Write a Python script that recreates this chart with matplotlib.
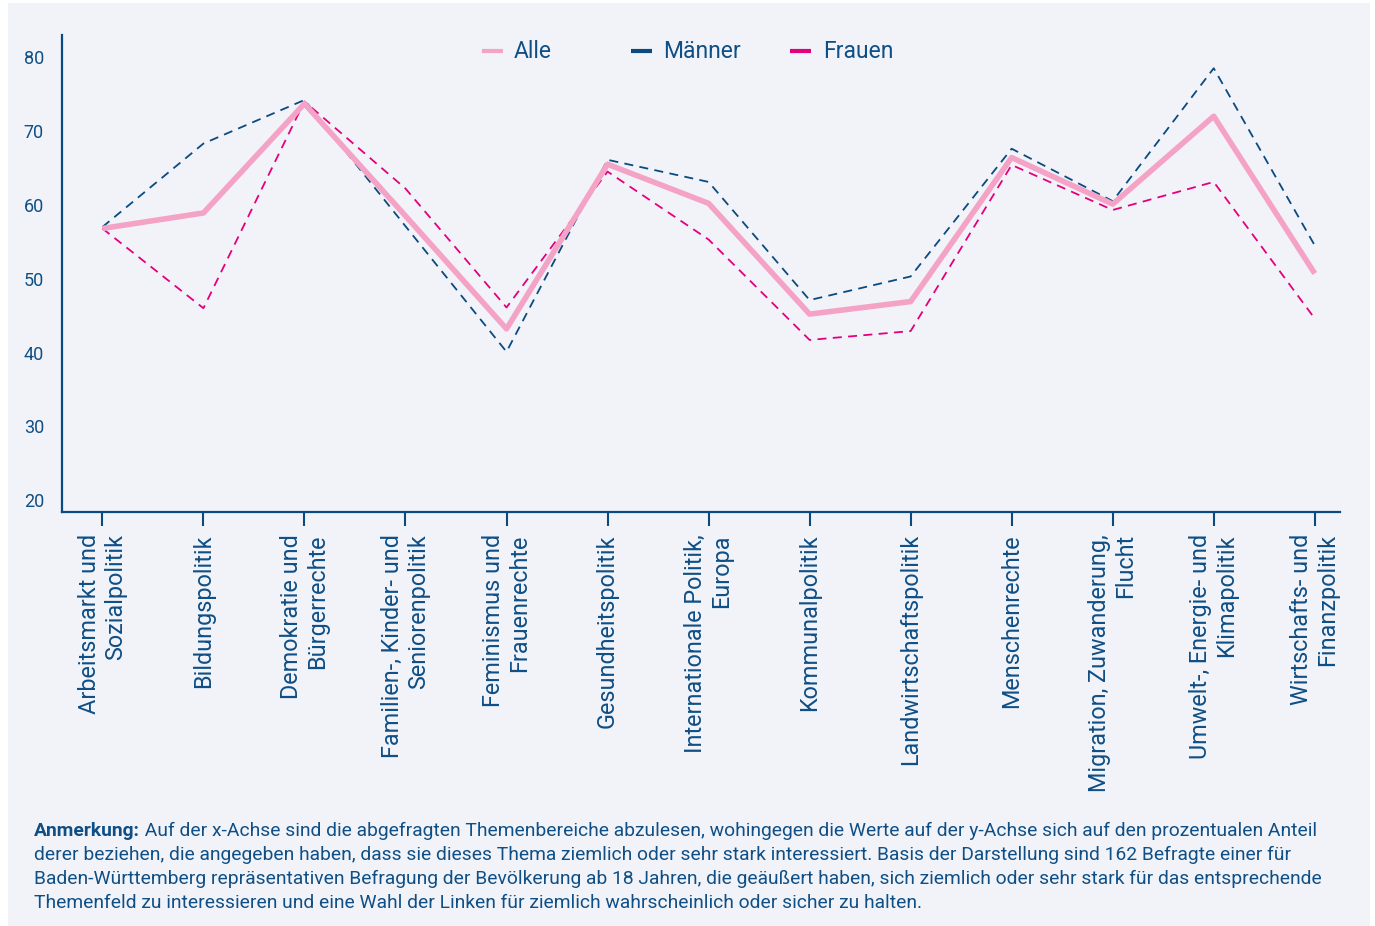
import matplotlib
matplotlib.use("Agg")
import matplotlib.pyplot as plt
from matplotlib.lines import Line2D
from matplotlib.patches import Rectangle

plt.rcParams['font.family'] = ['Roboto', 'DejaVu Sans']

# data
themen = [
    "Arbeitsmarkt und\nSozialpolitik",
    "Bildungspolitik",
    "Demokratie und\nBürgerrechte",
    "Familien-, Kinder- und\nSeniorenpolitik",
    "Feminismus und\nFrauenrechte",
    "Gesundheitspolitik",
    "Internationale Politik,\nEuropa",
    "Kommunalpolitik",
    "Landwirtschaftspolitik",
    "Menschenrechte",
    "Migration, Zuwanderung,\nFlucht",
    "Umwelt-, Energie- und\nKlimapolitik",
    "Wirtschafts- und\nFinanzpolitik",
]
alle = [56.8, 58.9, 73.7, 58.5, 43.2, 65.5, 60.2, 45.2, 46.9, 66.4, 60.1, 72.0, 50.7]
maenner = [57.0, 68.3, 74.2, 57.1, 40.1, 66.1, 63.1, 47.1, 50.3, 67.6, 60.5, 78.5, 54.5]
frauen = [56.8, 46.0, 74.0, 62.2, 46.1, 64.5, 55.3, 41.7, 42.9, 65.4, 59.3, 63.1, 44.6]
y_ticks = [20, 30, 40, 50, 60, 70, 80]
legend_names = ["Alle", "Männer", "Frauen"]

note_bold = "Anmerkung:"
note_lines = [
    " Auf der x-Achse sind die abgefragten Themenbereiche abzulesen, wohingegen die Werte auf der y-Achse sich auf den prozentualen Anteil",
    "derer beziehen, die angegeben haben, dass sie dieses Thema ziemlich oder sehr stark interessiert. Basis der Darstellung sind 162 Befragte einer für",
    "Baden-Württemberg repräsentativen Befragung der Bevölkerung ab 18 Jahren, die geäußert haben, sich ziemlich oder sehr stark für das entsprechende",
    "Themenfeld zu interessieren und eine Wahl der Linken für ziemlich wahrscheinlich oder sicher zu halten.",
]

BG = "#f1f3f9"
TXT = "#0f4f85"
C_ALLE = "#f4a3c6"
C_M = "#0a4a80"
C_F = "#e4007d"

W, H = 1375, 926
fig = plt.figure(figsize=(13.75, 9.26), dpi=100)
fig.patch.set_facecolor("white")
fig.patches.append(Rectangle((8 / W, 0.0), 1362 / W, 923 / H,
                             transform=fig.transFigure, facecolor=BG,
                             edgecolor="none", zorder=-10))

ax = fig.add_axes([62 / W, 1 - 512 / H, 1278 / W, 477 / H])
ax.set_facecolor(BG)
x = list(range(len(themen)))

ax.plot(x, maenner, color=C_M, lw=1.3, ls=(0, (5, 3.5)), zorder=2)
ax.plot(x, frauen, color=C_F, lw=1.3, ls=(0, (5, 3.5)), zorder=2)
ax.plot(x, alle, color=C_ALLE, lw=4, zorder=3, solid_capstyle="butt")

ax.set_xlim(-0.4, 12.25)
ax.set_ylim(18.4, 83)
ax.set_yticks(y_ticks)
ax.set_xticks(x)
ax.set_xticklabels(themen, rotation=90, ha="center", va="top",
                   multialignment="right", fontsize=16.8, color=TXT,
                   linespacing=1.2)
for lab in ax.get_yticklabels():
    lab.set_color(TXT)
    lab.set_fontsize(13)
ax.tick_params(axis="y", length=0, pad=13)
ax.tick_params(axis="x", length=10, width=1.5, color=C_M, pad=6)

for s in ["top", "right"]:
    ax.spines[s].set_visible(False)
for s in ["left", "bottom"]:
    ax.spines[s].set_color(C_M)
    ax.spines[s].set_linewidth(1.6)

# legend drawn by hand (handle x-start in px, text x-start in px)
leg_y = 1 - 51 / H
leg_pos = [(482, 514), (631, 663), (790, 823)]
leg_cols = [C_ALLE, C_M, C_F]
for (hx, tx), name, c in zip(leg_pos, legend_names, leg_cols):
    fig.add_artist(Line2D([hx / W, (hx + 21) / W], [leg_y, leg_y], color=c,
                          lw=3, transform=fig.transFigure,
                          solid_capstyle="butt"))
    fig.text(tx / W, leg_y, name, fontsize=16.5, color=TXT, va="center",
             ha="left")

# footnote
fig.canvas.draw()
r = fig.canvas.get_renderer()
x0 = 34 / W
y0 = 1 - 831 / H
fs = 13.9
tb = fig.text(x0, y0, note_bold, fontsize=fs, fontweight="bold", color=TXT,
              va="center", ha="left")
bb = tb.get_window_extent(renderer=r)
fig.text(bb.x1 / fig.bbox.width, y0, note_lines[0], fontsize=fs, color=TXT,
         va="center", ha="left")
for i, line in enumerate(note_lines[1:], start=1):
    fig.text(x0, y0 - i * 24 / H, line, fontsize=fs, color=TXT,
             va="center", ha="left")

fig.savefig("out.png", dpi=100, facecolor=fig.get_facecolor())
